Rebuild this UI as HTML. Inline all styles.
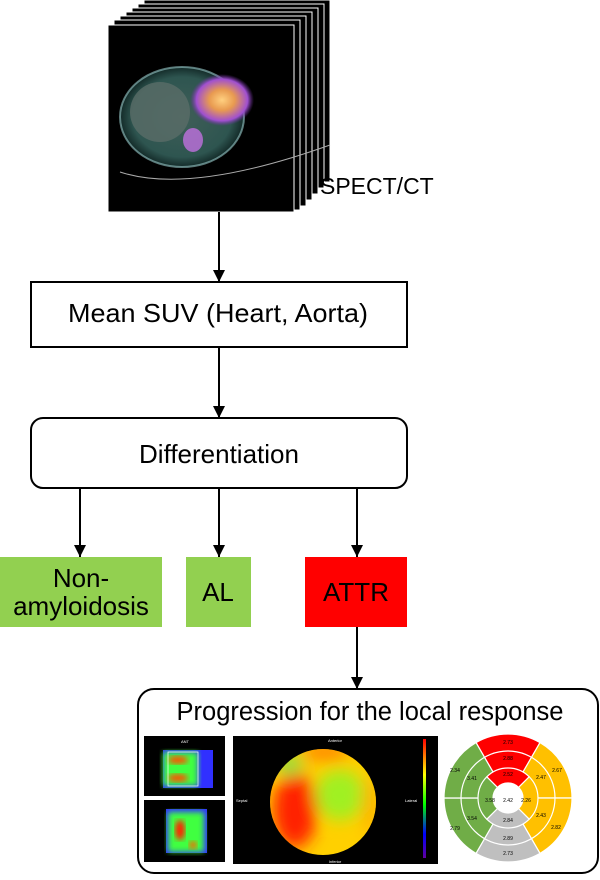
<!DOCTYPE html>
<html><head><style>
body{margin:0;background:#fff;width:600px;height:875px;overflow:hidden;font-family:"Liberation Sans",Arial,sans-serif}
</style></head><body>
<svg width="600" height="875" viewBox="0 0 600 875" xmlns="http://www.w3.org/2000/svg" font-family="Liberation Sans, Arial, sans-serif">
<defs>
<marker id="ah" markerWidth="12" markerHeight="12" refX="12" refY="6" orient="auto" markerUnits="userSpaceOnUse"><path d="M0,0 L12,6 L0,12 Z" fill="#000"/></marker>
<radialGradient id="ct" cx="0.5" cy="0.5" r="0.5"><stop offset="0" stop-color="#3f5e58"/><stop offset="0.8" stop-color="#2e5550"/><stop offset="1" stop-color="#132a28"/></radialGradient>
<radialGradient id="hot" cx="0.5" cy="0.5" r="0.5"><stop offset="0" stop-color="#ffd080"/><stop offset="0.4" stop-color="#e89a50"/><stop offset="0.8" stop-color="#a050d0"/><stop offset="1" stop-color="#7030a0" stop-opacity="0"/></radialGradient>
<filter id="bl"><feGaussianBlur stdDeviation="8"/></filter>
<filter id="bl2"><feGaussianBlur stdDeviation="3"/></filter>
<clipPath id="pc"><circle cx="323" cy="802" r="53"/></clipPath>
<linearGradient id="cbar" x1="0" y1="0" x2="0" y2="1"><stop offset="0" stop-color="#ff0000"/><stop offset="0.3" stop-color="#ffff00"/><stop offset="0.55" stop-color="#00ff00"/><stop offset="0.8" stop-color="#0000ff"/><stop offset="1" stop-color="#6000a0"/></linearGradient>
</defs>
<g fill="#000" stroke="#fff" stroke-width="1">
<rect x="144" y="0" width="186" height="182"/>
<rect x="138" y="4" width="186" height="184"/>
<rect x="132" y="8" width="186" height="186"/>
<rect x="126" y="12" width="186" height="188"/>
<rect x="120" y="16" width="186" height="190"/>
<rect x="114" y="20" width="186" height="190"/>
<rect x="108" y="25" width="186" height="187"/>
</g>
<ellipse cx="182" cy="117" rx="62" ry="50" fill="url(#ct)"/>
<ellipse cx="182" cy="117" rx="62" ry="50" fill="none" stroke="#9cc" stroke-width="2" opacity="0.6"/>
<ellipse cx="160" cy="112" rx="30" ry="30" fill="#5a6d68" opacity="0.8"/>
<ellipse cx="222" cy="100" rx="32" ry="26" fill="url(#hot)"/>
<ellipse cx="193" cy="140" rx="10" ry="12" fill="#c070e0" opacity="0.8"/>
<path d="M120 172 Q190 195 330 145" stroke="#aaa" fill="none" stroke-width="1"/>
<text x="320" y="194" font-size="23">SPECT/CT</text>
<g stroke="#000" stroke-width="2" marker-end="url(#ah)">
<line x1="219" y1="212" x2="219" y2="282"/>
<line x1="219" y1="347" x2="219" y2="418"/>
<line x1="80" y1="488" x2="80" y2="557"/>
<line x1="219" y1="488" x2="219" y2="557"/>
<line x1="357" y1="488" x2="357" y2="557"/>
<line x1="357" y1="627" x2="357" y2="689"/>
</g>
<rect x="31" y="282" width="376" height="65" fill="#fff" stroke="#000" stroke-width="2"/>
<text x="218" y="322" font-size="26" text-anchor="middle" textLength="300" lengthAdjust="spacingAndGlyphs">Mean SUV (Heart, Aorta)</text>
<rect x="31" y="418" width="376" height="70" rx="12" fill="#fff" stroke="#000" stroke-width="2"/>
<text x="219" y="463" font-size="26" text-anchor="middle">Differentiation</text>
<rect x="0" y="557" width="162" height="70" fill="#92d050"/>
<text x="81" y="587" font-size="26" text-anchor="middle">Non-</text>
<text x="81" y="615" font-size="26" text-anchor="middle">amyloidosis</text>
<rect x="186" y="557" width="65" height="70" fill="#92d050"/>
<text x="218" y="601" font-size="26" text-anchor="middle">AL</text>
<rect x="305" y="557" width="102" height="70" fill="#ff0000"/>
<text x="356" y="601" font-size="26" text-anchor="middle">ATTR</text>
<rect x="138" y="689" width="460" height="184" rx="16" fill="#fff" stroke="#000" stroke-width="2"/>
<text x="370" y="720" font-size="25.5" text-anchor="middle">Progression for the local response</text>
<rect x="144" y="736" width="81" height="60" fill="#000"/>
<rect x="163" y="750" width="50" height="38" fill="#3030ff"/>
<rect x="163" y="752" width="35" height="34" fill="#40ff40" filter="url(#bl2)"/>
<ellipse cx="178" cy="760" rx="10" ry="4" fill="#ff5000" filter="url(#bl2)"/>
<ellipse cx="178" cy="778" rx="10" ry="4" fill="#ff5000" filter="url(#bl2)"/>
<rect x="168" y="752" width="30" height="34" fill="none" stroke="#fff" stroke-width="0.7"/>
<text x="185" y="743" font-size="4" fill="#fff" text-anchor="middle">ANT</text>
<rect x="144" y="800" width="81" height="62" fill="#000"/>
<rect x="166" y="809" width="41" height="44" fill="#3030ff"/>
<rect x="168" y="812" width="36" height="40" fill="#40ff40" filter="url(#bl2)"/>
<ellipse cx="180" cy="830" rx="5" ry="10" fill="#ff2000" filter="url(#bl2)"/>
<ellipse cx="193" cy="845" rx="4" ry="4" fill="#ff6000" filter="url(#bl2)"/>
<rect x="233" y="736" width="205" height="128" fill="#000"/>
<g clip-path="url(#pc)">
<rect x="268" y="746" width="110" height="112" fill="#ffd000"/>
<g filter="url(#bl)">
<ellipse cx="295" cy="810" rx="22" ry="38" fill="#ff2000"/>
<ellipse cx="340" cy="795" rx="25" ry="25" fill="#a0f020"/>
<ellipse cx="290" cy="765" rx="12" ry="12" fill="#90e040"/>
<ellipse cx="325" cy="752" rx="25" ry="8" fill="#ff8000"/>
<ellipse cx="370" cy="805" rx="8" ry="30" fill="#ffb000"/>
</g>
</g>
<rect x="423" y="739" width="3" height="119" fill="url(#cbar)"/>
<text x="335" y="742" font-size="4" fill="#fff" text-anchor="middle">Anterior</text>
<text x="335" y="863" font-size="4" fill="#fff" text-anchor="middle">Inferior</text>
<text x="236" y="802" font-size="4" fill="#fff">Septal</text>
<text x="405" y="802" font-size="4" fill="#fff">Lateral</text>
<g stroke="#fff" stroke-width="1.2">
<path d="M508 798 L476 742.6 A64 64 0 0 1 540 742.6 Z" fill="#ff0000"/>
<path d="M508 798 L540 742.6 A64 64 0 0 1 572 798 Z" fill="#ffc000"/>
<path d="M508 798 L572 798 A64 64 0 0 1 540 853.4 Z" fill="#ffc000"/>
<path d="M508 798 L540 853.4 A64 64 0 0 1 476 853.4 Z" fill="#bfbfbf"/>
<path d="M508 798 L476 853.4 A64 64 0 0 1 444 798 Z" fill="#70ad47"/>
<path d="M508 798 L444 798 A64 64 0 0 1 476 742.6 Z" fill="#70ad47"/>
<circle cx="508" cy="798" r="47" fill="none"/>
<path d="M508 798 L486.8 776.8 A30 30 0 0 1 529.2 776.8 Z" fill="#ff0000"/>
<path d="M508 798 L529.2 776.8 A30 30 0 0 1 529.2 819.2 Z" fill="#ffc000"/>
<path d="M508 798 L529.2 819.2 A30 30 0 0 1 486.8 819.2 Z" fill="#bfbfbf"/>
<path d="M508 798 L486.8 819.2 A30 30 0 0 1 486.8 776.8 Z" fill="#70ad47"/>
<circle cx="508" cy="798" r="15" fill="#fff"/>
</g>
<g font-size="5" text-anchor="middle" fill="#000">
<text x="508" y="744">2.73</text><text x="508" y="760">2.88</text><text x="508" y="776">2.52</text>
<text x="455" y="772">2.34</text><text x="472" y="780">3.41</text><text x="490" y="802">3.58</text>
<text x="508" y="802">2.42</text><text x="526" y="802">2.26</text><text x="541" y="779">2.47</text>
<text x="557" y="772">2.67</text><text x="508" y="822">2.84</text><text x="508" y="840">2.89</text>
<text x="508" y="855">2.73</text><text x="472" y="820">3.54</text><text x="455" y="830">2.79</text>
<text x="541" y="817">2.43</text><text x="556" y="829">2.82</text>
</g>
</svg>
</body></html>
